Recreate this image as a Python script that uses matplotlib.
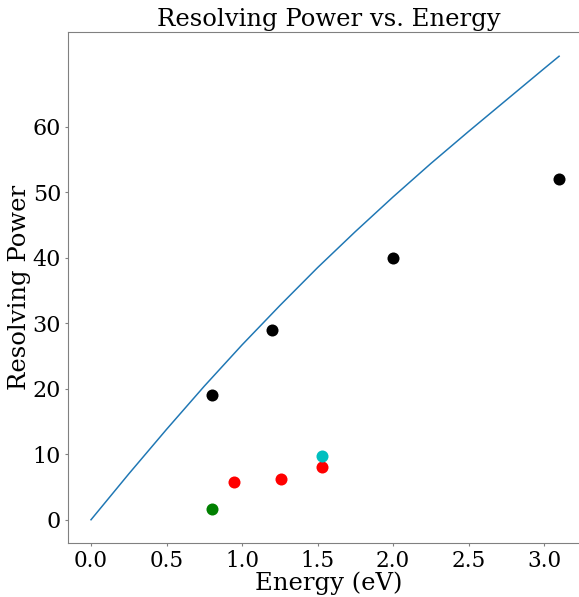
import matplotlib
matplotlib.use("Agg")
import matplotlib.pyplot as plt

# Theoretical curve
curve_energy = [0.0, 0.25, 0.5, 0.75, 1.0, 1.25, 1.5, 1.75, 2.0, 2.25, 2.5, 2.75, 3.0, 3.1]
curve_rp = [0.0, 7.0, 13.8, 20.4, 26.7, 32.7, 38.5, 44.0, 49.3, 54.4, 59.3, 64.1, 68.9, 70.8]

# Measured points
black_energy = [0.8, 1.2, 2.0, 3.1]
black_rp = [19.0, 29.0, 40.0, 52.0]
red_energy = [0.95, 1.26, 1.53]
red_rp = [5.7, 6.3, 8.1]
green_energy = [0.8]
green_rp = [1.7]
cyan_energy = [1.53]
cyan_rp = [9.8]

yticks = [0, 10, 20, 30, 40, 50, 60]
xticks = [0.0, 0.5, 1.0, 1.5, 2.0, 2.5, 3.0]

plt.rcParams['font.family'] = ['DejaVu Serif']

fig = plt.figure(figsize=(5.79, 5.97), dpi=100)
W, H = 579, 597
left, right, top, bottom = 68, 590, 32, 543
ax = fig.add_axes([left / W, 1 - bottom / H, (right - left) / W, (bottom - top) / H])

ax.plot(curve_energy, curve_rp, color='#1f77b4', linewidth=1.08)
ms = 75
ax.scatter(black_energy, black_rp, color='k', s=ms, zorder=3, linewidths=0)
ax.scatter(red_energy, red_rp, color='r', s=ms, zorder=3, linewidths=0)
ax.scatter(green_energy, green_rp, color='g', s=ms, zorder=3, linewidths=0)
ax.scatter(cyan_energy, cyan_rp, color='c', s=ms, zorder=3, linewidths=0)

ax.set_xlim((left - 91) / 151, (right - 91) / 151)
ax.set_ylim(-3.55, 74.5)
ax.set_yticks(yticks)
ax.set_xticks(xticks)
ax.set_xticklabels([f"{v:.1f}" for v in xticks])

ax.tick_params(axis='x', labelsize=15.5, color='0.5', length=2.0, width=0.8, pad=3.0)
ax.tick_params(axis='y', labelsize=16, color='0.5', length=2.0, width=0.8, pad=3.0)
for sp in ax.spines.values():
    sp.set_color('0.5')
    sp.set_linewidth(0.8)
ax.spines['right'].set_visible(False)

ax.set_title("Resolving Power vs. Energy", fontsize=17.5, pad=4)
ax.set_xlabel("Energy (eV)", fontsize=17.5, labelpad=0)
ax.set_ylabel("Resolving Power", fontsize=17.5, labelpad=1)

fig.savefig("out.png", dpi=100)
